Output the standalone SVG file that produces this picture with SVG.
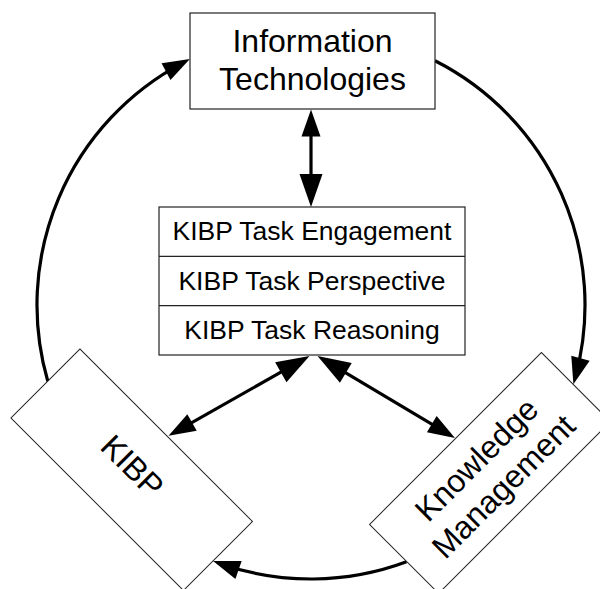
<svg xmlns="http://www.w3.org/2000/svg" width="600" height="589" viewBox="0 0 600 589">
  <style>
    .box { fill: #ffffff; stroke: #222222; stroke-width: 1.2; }
    .rbox { fill: #ffffff; stroke: #222222; stroke-width: 1; }
    .div { stroke: #222222; stroke-width: 1.2; }
    .big { font-family: "Liberation Sans", Arial, Helvetica, sans-serif; font-size: 32px; fill: #000000; text-anchor: middle; }
    .mid { font-family: "Liberation Sans", Arial, Helvetica, sans-serif; font-size: 26.5px; fill: #000000; text-anchor: middle; }
    .conn { fill: none; stroke: #000000; stroke-width: 3.2; }
  </style>
  <defs>
    <marker id="ahS" markerUnits="userSpaceOnUse" markerWidth="27" markerHeight="19" refX="19" refY="9.5" orient="auto-start-reverse" overflow="visible">
      <path d="M0,0 L27,9.5 L0,19 Z" fill="#000000"/>
    </marker>
    <marker id="ahL" markerUnits="userSpaceOnUse" markerWidth="33" markerHeight="23" refX="23" refY="11.5" orient="auto-start-reverse" overflow="visible">
      <path d="M0,0 L33,11.5 L0,23 Z" fill="#000000"/>
    </marker>
  </defs>

  <g id="connectors">
    <path class="conn" d="M47.8,381.2 A274,274 0 0 1 182.8,62.8" marker-end="url(#ahS)"/>
    <path class="conn" d="M435,60.7 A274,274 0 0 1 575.5,376.6" marker-end="url(#ahS)"/>
    <path class="conn" d="M406.5,561.8 A274,274 0 0 1 220.6,563.7" marker-end="url(#ahS)"/>
    <path class="conn" d="M311,117.5 L311,197" marker-start="url(#ahS)" marker-end="url(#ahL)"/>
    <path class="conn" d="M300.8,360.9 L175.5,431.9" marker-start="url(#ahL)" marker-end="url(#ahS)"/>
    <path class="conn" d="M326.1,361.1 L448.1,433.9" marker-start="url(#ahL)" marker-end="url(#ahS)"/>
  </g>

  <g id="node-it">
    <rect class="box" x="190" y="13" width="245" height="96"/>
    <text class="big" x="312.5" y="52">Information</text>
    <text class="big" x="312.5" y="90">Technologies</text>
  </g>

  <g id="node-tasks">
    <rect class="box" x="159" y="207" width="306" height="148"/>
    <line class="div" x1="159" y1="256.3" x2="465" y2="256.3"/>
    <line class="div" x1="159" y1="305.7" x2="465" y2="305.7"/>
    <text class="mid" x="312" y="240">KIBP Task Engagement</text>
    <text class="mid" x="312" y="289.5">KIBP Task Perspective</text>
    <text class="mid" x="312" y="338.5">KIBP Task Reasoning</text>
  </g>

  <g id="node-kibp" transform="translate(131.7,469.7) rotate(45)">
    <rect class="rbox" x="-122" y="-48.8" width="244" height="97.6"/>
    <text class="big" x="-2" y="8">KIBP</text>
  </g>

  <g id="node-km" transform="translate(490,473) rotate(-45)">
    <rect class="rbox" x="-121.5" y="-48.8" width="243" height="97.6"/>
    <text class="big" x="0" y="-8">Knowledge</text>
    <text class="big" x="0" y="30">Management</text>
  </g>
</svg>
